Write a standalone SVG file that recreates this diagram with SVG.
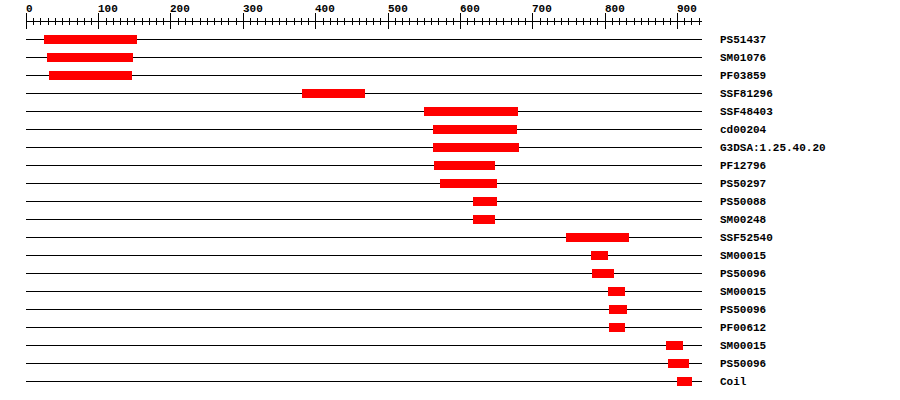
<svg xmlns="http://www.w3.org/2000/svg" width="900" height="400" viewBox="0 0 900 400">
<style>
text{font-family:"Liberation Mono","DejaVu Sans Mono",monospace;font-weight:bold;font-size:11px;fill:#000}
.ln{stroke:#000;stroke-width:1;shape-rendering:crispEdges;fill:none}
.bar{fill:#ff0000;shape-rendering:crispEdges}
</style>
<rect width="900" height="400" fill="#fff"/>
<g id="axis">
<path class="ln" d="M26 21.5H702"/>
<path class="ln" d="M26.5 13V29M98.5 13V29M170.5 13V29M243.5 13V29M315.5 13V29M388.5 13V29M460.5 13V29M532.5 13V29M605.5 13V29M677.5 13V29"/>
<path class="ln" d="M33.5 18V25M40.5 18V25M48.5 18V25M55.5 18V25M62.5 18V25M69.5 18V25M77.5 18V25M84.5 18V25M91.5 18V25M106.5 18V25M113.5 18V25M120.5 18V25M127.5 18V25M134.5 18V25M142.5 18V25M149.5 18V25M156.5 18V25M163.5 18V25M178.5 18V25M185.5 18V25M192.5 18V25M200.5 18V25M207.5 18V25M214.5 18V25M221.5 18V25M228.5 18V25M236.5 18V25M250.5 18V25M257.5 18V25M265.5 18V25M272.5 18V25M279.5 18V25M286.5 18V25M294.5 18V25M301.5 18V25M308.5 18V25M323.5 18V25M330.5 18V25M337.5 18V25M344.5 18V25M352.5 18V25M359.5 18V25M366.5 18V25M373.5 18V25M380.5 18V25M395.5 18V25M402.5 18V25M409.5 18V25M417.5 18V25M424.5 18V25M431.5 18V25M438.5 18V25M446.5 18V25M453.5 18V25M467.5 18V25M474.5 18V25M482.5 18V25M489.5 18V25M496.5 18V25M503.5 18V25M511.5 18V25M518.5 18V25M525.5 18V25M540.5 18V25M547.5 18V25M554.5 18V25M561.5 18V25M568.5 18V25M576.5 18V25M583.5 18V25M590.5 18V25M597.5 18V25M612.5 18V25M619.5 18V25M626.5 18V25M634.5 18V25M641.5 18V25M648.5 18V25M655.5 18V25M663.5 18V25M670.5 18V25M684.5 18V25M691.5 18V25M699.5 18V25"/>
<text x="26" y="12">0</text>
<text x="98" y="12">100</text>
<text x="170" y="12">200</text>
<text x="243" y="12">300</text>
<text x="315" y="12">400</text>
<text x="388" y="12">500</text>
<text x="460" y="12">600</text>
<text x="532" y="12">700</text>
<text x="605" y="12">800</text>
<text x="677" y="12">900</text>
</g>
<g id="row1"><path class="ln" d="M26 39.5H702"/><rect class="bar" x="44" y="35" width="93" height="9"/><text x="720" y="43">PS51437</text></g>
<g id="row2"><path class="ln" d="M26 57.5H702"/><rect class="bar" x="47" y="53" width="86" height="9"/><text x="720" y="61">SM01076</text></g>
<g id="row3"><path class="ln" d="M26 75.5H702"/><rect class="bar" x="49" y="71" width="83" height="9"/><text x="720" y="79">PF03859</text></g>
<g id="row4"><path class="ln" d="M26 93.5H702"/><rect class="bar" x="302" y="89" width="63" height="9"/><text x="720" y="97">SSF81296</text></g>
<g id="row5"><path class="ln" d="M26 111.5H702"/><rect class="bar" x="424" y="107" width="94" height="9"/><text x="720" y="115">SSF48403</text></g>
<g id="row6"><path class="ln" d="M26 129.5H702"/><rect class="bar" x="433" y="125" width="84" height="9"/><text x="720" y="133">cd00204</text></g>
<g id="row7"><path class="ln" d="M26 147.5H702"/><rect class="bar" x="433" y="143" width="86" height="9"/><text x="720" y="151">G3DSA:1.25.40.20</text></g>
<g id="row8"><path class="ln" d="M26 165.5H702"/><rect class="bar" x="434" y="161" width="61" height="9"/><text x="720" y="169">PF12796</text></g>
<g id="row9"><path class="ln" d="M26 183.5H702"/><rect class="bar" x="440" y="179" width="57" height="9"/><text x="720" y="187">PS50297</text></g>
<g id="row10"><path class="ln" d="M26 201.5H702"/><rect class="bar" x="473" y="197" width="24" height="9"/><text x="720" y="205">PS50088</text></g>
<g id="row11"><path class="ln" d="M26 219.5H702"/><rect class="bar" x="473" y="215" width="22" height="9"/><text x="720" y="223">SM00248</text></g>
<g id="row12"><path class="ln" d="M26 237.5H702"/><rect class="bar" x="566" y="233" width="63" height="9"/><text x="720" y="241">SSF52540</text></g>
<g id="row13"><path class="ln" d="M26 255.5H702"/><rect class="bar" x="591" y="251" width="17" height="9"/><text x="720" y="259">SM00015</text></g>
<g id="row14"><path class="ln" d="M26 273.5H702"/><rect class="bar" x="592" y="269" width="22" height="9"/><text x="720" y="277">PS50096</text></g>
<g id="row15"><path class="ln" d="M26 291.5H702"/><rect class="bar" x="608" y="287" width="17" height="9"/><text x="720" y="295">SM00015</text></g>
<g id="row16"><path class="ln" d="M26 309.5H702"/><rect class="bar" x="609" y="305" width="18" height="9"/><text x="720" y="313">PS50096</text></g>
<g id="row17"><path class="ln" d="M26 327.5H702"/><rect class="bar" x="609" y="323" width="16" height="9"/><text x="720" y="331">PF00612</text></g>
<g id="row18"><path class="ln" d="M26 345.5H702"/><rect class="bar" x="666" y="341" width="17" height="9"/><text x="720" y="349">SM00015</text></g>
<g id="row19"><path class="ln" d="M26 363.5H702"/><rect class="bar" x="668" y="359" width="21" height="9"/><text x="720" y="367">PS50096</text></g>
<g id="row20"><path class="ln" d="M26 381.5H702"/><rect class="bar" x="677" y="377" width="15" height="9"/><text x="720" y="385">Coil</text></g>
</svg>
